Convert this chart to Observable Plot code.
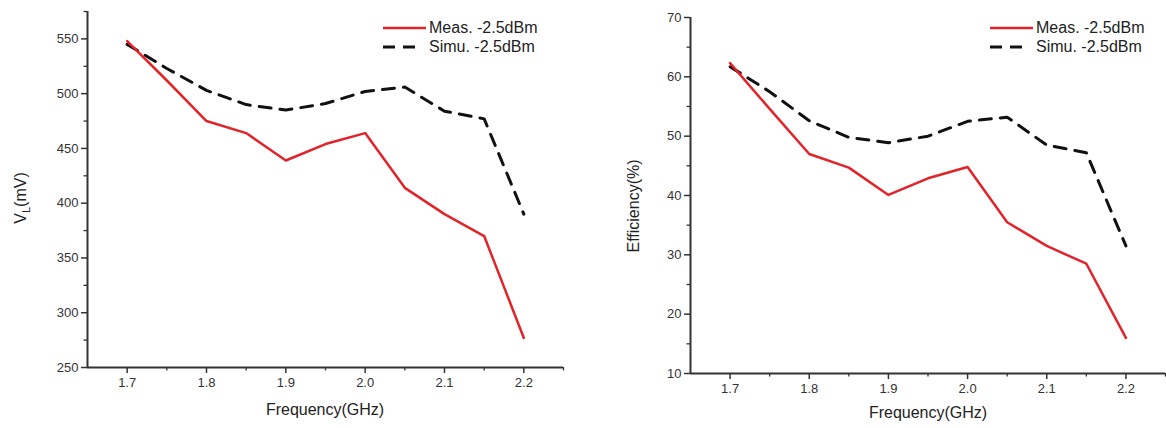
<!DOCTYPE html>
<html><head><meta charset="utf-8">
<script src="https://cdn.jsdelivr.net/npm/d3@7"></script>
<script src="https://cdn.jsdelivr.net/npm/@observablehq/plot@0.6"></script>
<style>
body{margin:0;background:#fff;font-family:"Liberation Sans",Arial,sans-serif;}
#wrap{position:relative;width:1166px;height:428px;overflow:hidden;background:#fff;}
.panel{position:absolute;top:0;}
.lab{position:absolute;font-size:16px;color:#222;white-space:nowrap;line-height:1;}
.rot{transform:translate(-50%,-50%) rotate(-90deg);}
.hx{transform:translate(-50%,-50%);}
.leg{position:absolute;font-size:16px;color:#222;line-height:19px;}
.leg div{display:flex;align-items:center;height:19px;}
.leg svg{margin-right:2px;}
sub{font-size:11px;vertical-align:-4px;line-height:0;}
</style></head>
<body>
<div id="wrap">
  <div class="panel" id="left" style="left:0"></div>
  <div class="panel" id="right" style="left:600px"></div>
  <div class="lab rot" style="left:21px;top:198px">V<sub>L</sub>(mV)</div>
  <div class="lab hx" style="left:325px;top:410px">Frequency(GHz)</div>
  <div class="lab rot" style="left:634px;top:206px">Efficiency(%)</div>
  <div class="lab hx" style="left:928px;top:413px">Frequency(GHz)</div>
  <div class="leg" id="legL" style="left:383px;top:18px"></div>
  <div class="leg" id="legR" style="left:990px;top:18px"></div>
</div>
<script>
const freq = [1.7, 1.75, 1.8, 1.85, 1.9, 1.95, 2.0, 2.05, 2.1, 2.15, 2.2];
const vlMeas = [548, 512, 475, 464, 439, 454, 464, 414, 390, 370, 277];
const vlSimu = [545, 523, 503, 490, 485, 491, 502, 506, 484, 477, 390];
const effMeas = [62.3, 54.6, 47.0, 44.7, 40.1, 42.9, 44.8, 35.5, 31.5, 28.5, 16.0];
const effSimu = [61.7, 57.5, 52.6, 49.8, 48.9, 50.0, 52.5, 53.2, 48.5, 47.2, 31.5];
const seriesNames = ["Meas. -2.5dBm", "Simu. -2.5dBm"];
const xTicks = [1.7, 1.8, 1.9, 2.0, 2.1, 2.2];
const xMinor = [1.75, 1.85, 1.95, 2.05, 2.15, 2.25];
const xDomain = [1.65, 2.25];
const vlTicks = [250, 300, 350, 400, 450, 500, 550];
const vlMinor = [275, 325, 375, 425, 475, 525, 575];
const vlDomain = [250, 575];
const effTicks = [10, 20, 30, 40, 50, 60, 70];
const effMinor = [15, 25, 35, 45, 55, 65];
const effDomain = [10, 70];

const RED = "#e2232a", BLACK = "#111";
const AX = "#333";

function makeChart(meas, simu, yDomain, yTicks, yMinor, layout) {
  const rows = freq.map((f, i) => ({f, meas: meas[i], simu: simu[i]}));
  return Plot.plot({
    width: layout.width, height: 428,
    marginLeft: layout.ml, marginRight: layout.mr, marginTop: layout.mt, marginBottom: layout.mb,
    style: {fontFamily: '"Liberation Sans", Arial, sans-serif', fontSize: "13px", background: "#fff"},
    x: {domain: xDomain},
    y: {domain: yDomain},
    marks: [
      Plot.ruleX([xDomain[0]], {stroke: AX, strokeWidth: 2}),
      Plot.ruleY([yDomain[0]], {stroke: AX, strokeWidth: 2}),
      Plot.axisY({ticks: yTicks, tickSize: 6, tickPadding: 3, label: null, stroke: AX, strokeWidth: 1.5, fill: "#333", fontSize: 13, tickFormat: d3.format("d")}),
      Plot.axisY({ticks: yMinor, tickSize: 3.5, label: null, stroke: AX, strokeWidth: 1.3, tickFormat: () => ""}),
      Plot.axisX({ticks: xTicks, tickSize: 6, tickPadding: 4, label: null, stroke: AX, strokeWidth: 1.5, fill: "#333", fontSize: 13, tickFormat: d3.format(".1f")}),
      Plot.axisX({ticks: xMinor, tickSize: 3.5, label: null, stroke: AX, strokeWidth: 1.3, tickFormat: () => ""}),
      Plot.line(rows, {x: "f", y: "simu", stroke: BLACK, strokeWidth: 3, strokeDasharray: "12,9"}),
      Plot.line(rows, {x: "f", y: "meas", stroke: RED, strokeWidth: 2.5})
    ]
  });
}

document.getElementById("left").append(
  makeChart(vlMeas, vlSimu, vlDomain, vlTicks, vlMinor, {width: 580, ml: 87, mr: 17, mt: 11, mb: 61})
);
document.getElementById("right").append(
  makeChart(effMeas, effSimu, effDomain, effTicks, effMinor, {width: 566, ml: 90, mr: 1, mt: 17, mb: 55})
);

function legend(id) {
  const el = document.getElementById(id);
  el.innerHTML =
    `<div><svg width="44" height="10"><line x1="0" y1="5" x2="43" y2="5" stroke="${RED}" stroke-width="2.5"/></svg>${seriesNames[0]}</div>` +
    `<div><svg width="44" height="10"><line x1="0" y1="5" x2="33" y2="5" stroke="${BLACK}" stroke-width="3" stroke-dasharray="12,8"/></svg>${seriesNames[1]}</div>`;
}
legend("legL");
legend("legR");
</script>
</body></html>
